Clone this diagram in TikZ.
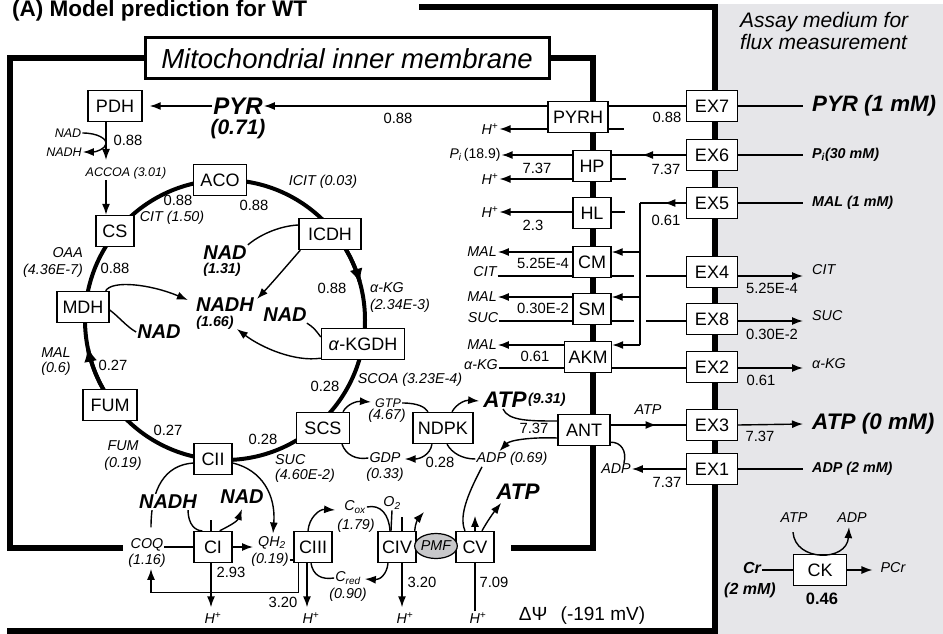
\documentclass[tikz,border=0pt]{standalone}
\usepackage{fontspec}
\setmainfont{Liberation Sans}
\usetikzlibrary{arrows.meta,calc,positioning,shapes.geometric,decorations.markings}
\definecolor{assaygray}{HTML}{E6E6E9}
\definecolor{pmfgray}{HTML}{C8C8CA}
\newcommand{\fsz}[1]{\fontsize{#1}{#1}\selectfont}
\tikzset{
  enz/.style={draw,line width=1.4pt,fill=white,minimum width=38pt,minimum height=31pt,
    inner xsep=3pt,inner ysep=0pt,font=\fsz{18}},
  met/.style={inner sep=1pt,font=\fsz{14.3}\itshape},
  smet/.style={inner sep=1pt,font=\fsz{12.5}\itshape},
  num/.style={inner sep=1pt,font=\fsz{14.8}},
  bmet/.style={inner sep=1pt,font=\fsz{20}\bfseries\itshape},
  bval/.style={inner sep=1pt,font=\fsz{14.3}\bfseries\itshape},
  outl/.style={anchor=west,inner xsep=9pt,inner ysep=1pt},
  flux/.style={line width=1.4pt},
  tca/.style={line width=4pt},
  wall/.style={line width=5.5pt},
  bigtip/.style={-{Latex[length=15pt,width=13pt]}},
  midarrow/.style={postaction={decorate},decoration={markings,
    mark=at position #1 with {\arrow{Latex[length=11pt,width=8pt]}}}},
  >={Latex[length=11pt,width=8pt]},
}
\begin{document}
\begin{tikzpicture}[x=1pt,y=-1pt]
\useasboundingbox (0,0) rectangle (943,634);
% assay medium
\fill[assaygray] (717,4) rectangle (943,634);
\node[anchor=north west,align=left,inner sep=0,font=\fontsize{21}{22}\selectfont\itshape] (assay) at (740,12.5) {Assay medium for\\flux measurement};
% title and outer frame
\node[anchor=base west,inner sep=0,font=\fsz{22.5}\bfseries] (title) at (12,17) {(A) Model prediction for WT};
\draw[wall] (419,7) -- (715,7) -- (715,631) -- (7,631);
% inner membrane
\draw[wall] (123,548) -- (10,548) -- (10,58) -- (145,58);
\draw[wall] (550,58) -- (593,58) -- (593,548) -- (511,548);
\node[draw,line width=3pt,fill=white,minimum width=404pt,minimum height=41pt,inner sep=0,font=\fsz{27.5}\itshape] (imm) at (347,58.5) {Mitochondrial inner membrane};
% TCA cycle ring
\draw[tca] (225,320) circle[radius=140pt];
\draw[tca,bigtip] plot[domain=-34:-15,samples=20] ({225+140*cos(\x)},{320+140*sin(\x)});
\draw[tca,bigtip] plot[domain=150:169,samples=20] ({225+140*cos(\x)},{320+140*sin(\x)});

% enzymes
\node[enz,minimum width=54pt] (pdh) at (115,106) {PDH};
\node[enz] (cs) at (115,231) {CS};
\node[enz,minimum width=53pt] (aco) at (220,180) {ACO};
\node[enz,minimum width=62pt] (icdh) at (330,234) {ICDH};
\node[enz,minimum width=83pt] (akgdh) at (363,344) {\textit{α}-KGDH};
\node[enz,minimum width=53pt] (scs) at (323,428) {SCS};
\node[enz] (cii) at (213,459) {CII};
\node[enz,minimum width=54pt] (fum) at (110,405) {FUM};
\node[enz,minimum width=52pt] (mdh) at (83,307) {MDH};
\node[enz,minimum width=60pt] (ndpk) at (443,428) {NDPK};
\node[enz] (ci) at (213,547) {CI};
\node[enz] (ciii) at (313,547) {CIII};
\node[enz] (civ) at (397,547) {CIV};
\node[enz] (cv) at (475,547) {CV};
\node[ellipse,draw,line width=1.2pt,fill=pmfgray,minimum width=40pt,minimum height=25pt,inner sep=0,font=\fsz{14.3}\itshape] (pmf) at (436,546) {PMF};
% carriers in the membrane
\node[enz,minimum width=60pt] (pyrh) at (578,117) {PYRH};
\node[enz] (hp) at (592,166) {HP};
\node[enz] (hl) at (592,213) {HL};
\node[enz] (cm) at (592,262) {CM};
\node[enz] (sm) at (592,309) {SM};
\node[enz,minimum width=47pt] (akm) at (588,357) {AKM};
\node[enz,minimum width=52pt] (ant) at (584,430) {ANT};
\foreach \n/\y in {7/106,6/155,5/203,4/272,8/319,2/367,3/425,1/469}
  \node[enz,minimum width=51pt] (ex\n) at (712,\y) {EX\n};
\node[enz,minimum width=53pt] (ck) at (820,570) {CK};

% PDH and pyruvate
\node[bmet,font=\fsz{24}\bfseries\itshape] (pyr) at (238,106) {PYR};
\node[bmet,font=\fsz{21}\bfseries\itshape] (pyrv) at (238,129) {(0.71)};
\node[bmet,font=\fsz{22.3}\bfseries\itshape,outl] (pyrout) at (803,106) {PYR (1 mM)};
\draw[flux] (ex7.east) -- (pyrout.west);
\draw[flux] (ex7.west) -- (ex7.west -| pyrh.east);
\draw[flux,->] (ex7.west -| pyrh.west) -- (pyr.east);
\draw[flux,->,shorten >=7pt] (pyr.west) -- (pdh.east |- pyr.west);
\node[num] (vpyrh) at (398,118) {0.88};
\node[num] (vex7) at (667,117) {0.88};
\node[smet] (nadp) at (68,133) {NAD};
\node[smet] (nadhp) at (64,152) {NADH};
\node[num] (vpdh) at (128,140) {0.88};
\node[smet] (accoa) at (126,173) {ACCOA (3.01)};
\draw[flux,->] ($(pdh.south)+(-9,0)$) -- ($(accoa.north)+(-20,-6)$);
\draw[flux,->] (nadp.east) .. controls (98,133) and (107,139) .. (106,144) .. controls (105,149) and (96,152) .. (nadhp.east);
\draw[flux,->] ($(accoa.south)+(-20,0)$) -- ($(cs.north)+(-9,0)$);

% TCA labels
\node[num] (vcsaco) at (178,200) {0.88};
\node[num] (vacoic) at (254,205) {0.88};
\node[met] (cit) at (172,218) {CIT (1.50)};
\node[met] (icit) at (323,182) {ICIT (0.03)};
\node[met,align=right,anchor=east,font=\fontsize{14.3}{17}\selectfont\itshape] (oaa) at (84,262) {OAA\\(4.36E-7)};
\node[num] (vmdhcs) at (115,268) {0.88};
\node[met,align=center,font=\fontsize{14.3}{15}\selectfont\itshape] (mal) at (56,362) {MAL\\(0.6)};
\node[num] (vfummdh) at (113,365) {0.27};
\node[num] (vicak) at (332,288) {0.88};
\node[met,align=left,anchor=west,font=\fontsize{14.3}{17}\selectfont\itshape] (akg) at (369,297) {α-KG\\(2.34E-3)};
\node[num] (vakscs) at (325,386) {0.28};
\node[met] (scoa) at (410,380) {SCOA (3.23E-4)};
\node[num] (vfumcii) at (168,430) {0.27};
\node[met,align=center,font=\fontsize{14.3}{17}\selectfont\itshape] (fumv) at (123,456) {FUM\\(0.19)};
\node[num] (vciiscs) at (263,439) {0.28};
\node[met,align=left,anchor=west,font=\fontsize{14.3}{15}\selectfont\itshape] (suc) at (274,468) {SUC\\(4.60E-2)};

% NAD / NADH in the matrix
\node[bmet] (nadi) at (225,253) {NAD};
\node[bval] (nadiv) at (222,270) {(1.31)};
\node[bmet] (nadhm) at (225,305) {NADH};
\node[bval] (nadhmv) at (215,323) {(1.66)};
\node[bmet] (nadm) at (159,332) {NAD};
\node[bmet] (nadk) at (285,315) {NAD};
\draw[flux] ($(icdh.west)+(0,-9)$) .. controls (278,226) and (258,236) .. (nadi.north east);
\draw[flux,->] ($(icdh.south west)+(2,0)$) .. controls (290,262) and (272,283) .. ($(nadhm.north east)+(2,2)$);
\draw[flux,->] ($(mdh.north east)+(-4,0)$) .. controls (112,280) and (150,284) .. ($(nadhm.west)+(-7,-5)$);
\draw[flux] ($(mdh.east)+(0,3)$) .. controls (118,316) and (127,327) .. (nadm.west);
\draw[flux] ($(nadk.south east)+(-1,0)$) .. controls (314,328) .. ($(akgdh.west)+(0,-7)$);
\draw[flux,->] ($(akgdh.south west)+(0,-2)$) .. controls (295,362) and (262,348) .. ($(nadhmv.east)+(2,6)$);

% SCS, NDPK, ANT
\node[smet] (gtp) at (388,403) {GTP};
\node[met] (gtpv) at (387,416) {(4.67)};
\node[met] (gdp) at (385,458) {GDP};
\node[met] (gdpv) at (385,475) {(0.33)};
\node[num] (vndpk) at (440,462) {0.28};
\node[bmet,font=\fsz{22.5}\bfseries\itshape] (atpm) at (505,400) {ATP};
\node[bval,anchor=west,inner sep=0] (atpmv) at (528,400) {(9.31)};
\node[num] (vant) at (534,428) {7.37};
\node[met] (adpm) at (512,459) {ADP (0.69)};
\draw[flux,->] ($(scs.north)+(20,0)$) .. controls (347,404) and (357,401) .. ($(gtp.west)+(-3,-1)$);
\draw[flux] (gtp.east) .. controls (418,403) and (425,407) .. ($(ndpk.north)+(-15,0)$);
\draw[flux,->] ($(ndpk.north)+(9,0)$) .. controls (457,403) and (466,400) .. ($(atpm.west)+(-3,1)$);
\draw[flux] ($(atpm.south)+(-2,0)$) .. controls (508,421) and (530,421) .. ($(ant.west)+(0,-9)$);
\draw[flux,->] ($(ant.west)+(0,8)$) .. controls (532,437) and (510,440) .. ($(adpm.north west)+(24,0)$);
\draw[flux] (adpm.west) .. controls (462,459) and (452,453) .. ($(ndpk.south)+(4,0)$);
\draw[flux,->] ($(ndpk.south)+(-11,0)$) .. controls (430,455) and (420,459) .. ($(gdp.east)+(3,1)$);
\draw[flux] ($(scs.south)+(19,0)$) .. controls (346,455) and (356,460) .. (gdp.west);

% ATP / ADP exchange
\node[met] (atpant) at (648,410) {ATP};
\node[met] (adpant) at (616,469) {ADP};
\node[bmet,font=\fsz{22.5}\bfseries\itshape,outl] (atpout) at (803,424) {ATP (0 mM)};
\node[bval,outl] (adpout) at (803,469) {ADP (2 mM)};
\node[num] (vex3) at (760,436) {7.37};
\node[num] (vex1) at (667,482) {7.37};
\draw[flux,midarrow=0.61] (ant.east |- ex3.west) -- (ex3.west);
\draw[flux,->] (ex3.east) -- (atpout.west);
\draw[flux,->] (ex1.west) -- (adpant.east);
\draw[flux] (ex1.east) -- (adpout.west);
\draw[flux] ($(ant.south east)+(0,-4)$) .. controls (621,442) and (627,451) .. ($(adpant.north)+(8,0)$);

% proton, phosphate and pyruvate carriers
\node[met] (hpyrh) at (490,129) {H\textsuperscript{+}};
\draw[flux,->] (pyrh.west |- hpyrh) -- (hpyrh.east);
\draw[flux] (pyrh.east |- hpyrh) -- ++(15,0);
\node[inner sep=1pt,font=\fsz{14}] (pi) at (475,155) {\textit{P\textsubscript{i}}\,(18.9)};
\node[num] (vhp) at (537,168) {7.37};
\node[met] (hhp) at (490,179) {H\textsuperscript{+}};
\draw[flux,->] (hp.west |- pi) -- (pi.east);
\draw[flux,->] (hp.west |- hhp) -- (hhp.east);
\draw[flux] (hp.east |- hhp) -- ++(14,0);
\draw[flux,midarrow=0.59] (ex6.west) -- (ex6.west -| hp.east);
\node[num] (vex6) at (666,169) {7.37};
\node[bval,outl] (piout) at (803,155) {P\textsubscript{i}(30 mM)};
\draw[flux] (ex6.east) -- (piout.west);
\node[met] (hhl) at (490,212) {H\textsuperscript{+}};
\node[num] (vhl) at (533,225) {2.3};
\draw[flux,->] (hl.west |- hhl) -- (hhl.east);
\draw[flux] (hl.east |- hhl) -- ++(13,0);

% dicarboxylate / tricarboxylate carriers
\coordinate (citrow) at (0,276);
\coordinate (sucrow) at (0,321);
\coordinate (akgrow) at (0,368);
\coordinate (mbus) at (640,203);
\coordinate (mbusend) at (640,345);
\node[met] (mal1) at (482,252) {MAL};
\node[num] (vcm) at (543,263) {5.25E-4};
\node[met] (citl) at (485,272) {CIT};
\node[met] (mal2) at (482,297) {MAL};
\node[num] (vsm) at (543,308) {0.30E-2};
\node[met] (sucl) at (483,318) {SUC};
\node[met] (mal3) at (482,345) {MAL};
\node[num] (vakm) at (535,356) {0.61};
\node[met] (akgl) at (481,365) {α-KG};
\node[bval,outl] (malout) at (803,203) {MAL (1 mM)};
\node[num] (vex5) at (666,220) {0.61};
\node[met,outl] (citr) at (803,270) {CIT};
\node[met,outl] (sucr) at (803,316) {SUC};
\node[met,outl] (akgr) at (803,364) {α-KG};
\node[num] (vex4) at (772,288) {5.25E-4};
\node[num] (vex8) at (772,334) {0.30E-2};
\node[num] (vex2) at (761,380) {0.61};
\draw[flux] (ex5.east) -- (malout.west);
\draw[flux,midarrow=0.47] (ex5.west) -- (mbus);
\draw[flux] (mbus) -- (mbusend);
\draw[flux,->] (mbus |- mal1) -- (cm.east |- mal1);
\draw[flux,->] (mbus |- mal2) -- (sm.east |- mal2);
\draw[flux,->] (mbusend) -- (akm.east |- mbusend);
\draw[flux,->] (cm.west |- mal1) -- (mal1.east);
\draw[flux,->] (sm.west |- mal2) -- (mal2.east);
\draw[flux,->] (akm.west |- mal3) -- (mal3.east);
\draw[flux] (citl.east |- citrow) -- (cm.west |- citrow);
\draw[flux] (cm.east |- citrow) -- ($(mbus |- citrow)+(-6,0)$);
\draw[flux] ($(mbus |- citrow)+(6,0)$) -- (ex4.west |- citrow);
\draw[flux,->] (ex4.east |- citrow) -- (citr.west |- citrow);
\draw[flux] (sucl.east |- sucrow) -- (sm.west |- sucrow);
\draw[flux] (sm.east |- sucrow) -- ($(mbus |- sucrow)+(-6,0)$);
\draw[flux] ($(mbus |- sucrow)+(6,0)$) -- (ex8.west |- sucrow);
\draw[flux,->] (ex8.east |- sucrow) -- (sucr.west |- sucrow);
\draw[flux] (akgl.east |- akgrow) -- (akm.west |- akgrow);
\draw[flux] (akm.east |- akgrow) -- (ex2.west |- akgrow);
\draw[flux,->] (ex2.east |- akgrow) -- (akgr.west |- akgrow);

% respiratory chain
\node[met] (coq) at (147,545) {COQ};
\node[met] (coqv) at (147,561) {(1.16)};
\draw[flux] ($(coq.north)+(4,-10)$) .. controls (151,488) and (165,465) .. ($(cii.west)+(0,4)$);
\node[bmet,fill=white] (nadhc) at (168,502) {NADH};
\node[bmet] (nadc) at (242,497) {NAD};
\node[met] (qh2) at (272,543) {QH\textsubscript{2}};
\node[met] (qh2v) at (270,560) {(0.19)};
\node[num] (vci) at (231,572) {2.93};
\node[met] (hci) at (213,618) {H\textsuperscript{+}};
\draw[flux] (coq.east |- ci.west) -- (ci.west);
\draw[flux,->,shorten >=4pt] (ci.east) -- (ci.east -| qh2.west);
\draw[flux] ($(ci.north)+(-2,0)$) -- ++(0,-11);
\draw[flux,->] ($(ci.south)+(-2,0)$) -- ($(hci.north)+(-2,-4)$);
\draw[flux] ($(nadhc.south east)+(-10,0)$) .. controls (188,525) and (196,531) .. ($(ci.north west)+(9,0)$);
\draw[flux,->] ($(ci.north east)+(-13,0)$) .. controls (227,527) and (237,522) .. ($(nadc.south)+(0,4)$);
\draw[flux,->] ($(cii.east)+(0,4)$) .. controls (262,470) and (276,495) .. ($(qh2.north)+(1,-2)$);
\draw[flux] (qh2v.east) -- (ciii.west |- qh2v.east);
\node[met] (cox) at (355,507) {C\textsubscript{ox}};
\node[met] (coxv) at (356,526) {(1.79)};
\node[met] (cred) at (348,578) {C\textsubscript{red}};
\node[met] (credv) at (348,595) {(0.90)};
\node[met] (o2) at (392,503) {O\textsubscript{2}};
\node[num] (vciii) at (283,602) {3.20};
\node[met] (hciii) at (311,618) {H\textsuperscript{+}};
\draw[flux,->] ($(ciii.south)+(-6,0)$) -- ($(hciii.north)+(-4,-4)$);
\draw[flux,->] ($(ciii.south west)+(5,0)$) -- ++(0,29) -| ($(coqv.south)+(4,0)$);
\draw[flux,->] ($(ciii.north)+(-5,0)$) .. controls (309,518) and (319,509) .. ($(cox.west)+(-8,3)$);
\draw[flux] ($(ciii.south)+(-2,0)$) .. controls (313,575) and (321,580) .. (cred.west);
\draw[flux] (cox.east) .. controls (381,504) and (389,515) .. ($(civ.north)+(-7,0)$);
\draw[flux] (o2.south) .. controls (391,520) .. ($(civ.north)+(-6,0)$);
\coordinate (civout) at (424,512);
\draw[flux,->] ($(civ.north east)+(-2,0)$) .. controls (415,524) and (418,519) .. (civout);
\draw[flux,->] ($(civ.south)+(-9,0)$) .. controls (387,574) and (380,580) .. ($(cred.east)+(3,1)$);
\node[num] (vciv) at (422,582) {3.20};
\node[met] (hciv) at (405,618) {H\textsuperscript{+}};
\draw[flux] ($(civ.north)+(5,0)$) -- ++(0,-14);
\draw[flux,->] ($(civ.south)+(5,0)$) -- ($(hciv.north)+(-3,-4)$);
\node[bmet,font=\fsz{22.5}\bfseries\itshape] (atpcv) at (518,492) {ATP};
\node[num] (vcv) at (494,582) {7.09};
\node[met] (hcv) at (478,618) {H\textsuperscript{+}};
\draw[flux] (cv.south |- hcv.north) -- (cv.south);
\draw[flux,->] (cv.north) -- ++(0,-15);
\draw[flux,->] ($(cv.north)+(7,0)$) .. controls (488,520) and (494,512) .. ($(atpcv.south west)+(6,2)$);
\draw[flux] ($(adpm.south)+(-30,0)$) .. controls (470,490) and (458,515) .. ($(cv.north)+(-10,0)$);
\node[inner sep=0,font=\fsz{19}] (dpsi) at (582,616) {ΔΨ\hspace{0.7em}(-191 mV)};

% creatine kinase in the medium
\node[bmet,font=\fsz{16}\bfseries\itshape] (cr) at (752,568) {Cr};
\node[bmet,font=\fsz{16}\bfseries\itshape] (crv) at (750,590) {(2 mM)};
\node[met] (pcr) at (893,568) {PCr};
\node[met] (atpck) at (794,518) {ATP};
\node[met] (adpck) at (852,518) {ADP};
\node[inner sep=1pt,font=\fsz{16.5}\bfseries] (vck) at (822,599) {0.46};
\draw[flux] (cr.east |- ck.west) -- (ck.west);
\draw[flux,->,shorten >=7pt] (ck.east) -- (ck.east -| pcr.west);
\draw[flux,->] ($(atpck.south)+(-1,8)$) .. controls (795,562) and (847,562) .. ($(adpck.south)+(-3,3)$);
\end{tikzpicture}
\end{document}
